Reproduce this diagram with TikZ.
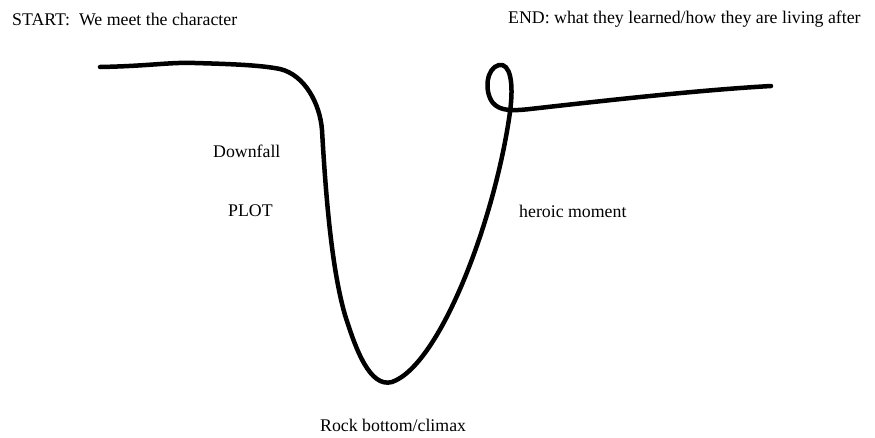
\documentclass[tikz,border=0pt]{standalone}
\usepackage{fontspec}
\setmainfont{Liberation Serif}
\begin{document}
\begin{tikzpicture}[x=1pt,y=-1pt,
  lbl/.style={anchor=west,inner sep=0pt,font=\fontsize{17.8}{21}\selectfont},
  stroke/.style={line width=4.5pt,line cap=round,line join=round}]
\useasboundingbox[fill=white] (0,0) rectangle (875,437);
\node[lbl] (start) at (12,19) {START:\ \ We meet the character};
\node[lbl] (end) at (508,19) {END: what they learned/how they are living after};
\node[lbl] (downfall) at (213,151) {Downfall};
\node[lbl] (plot) at (228,211) {PLOT};
\node[lbl] (heroic) at (519,211) {heroic moment};
\node[lbl] (rock) at (320,425) {Rock bottom/climax};
\draw[stroke] (100,67) .. controls (150,66) and (170,62) .. (195,63)
  .. controls (230,64) and (260,65) .. (280,69)
  .. controls (305,75) and (320,104) .. (322,130)
  .. controls (326,200) and (332,270) .. (345,315)
  .. controls (356,350) and (370,388) .. (392,382)
  .. controls (440,365) and (495,220) .. (510,112)
  .. controls (514,82) and (510,63) .. (499,65)
  .. controls (486,68) and (484,92) .. (493,103)
  .. controls (500,111) and (512,111) .. (530,109)
  .. controls (610,100) and (700,90) .. (771,86);
\end{tikzpicture}
\end{document}
